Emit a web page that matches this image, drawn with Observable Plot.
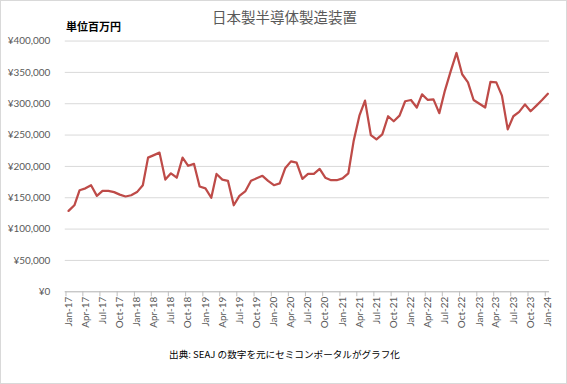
<!DOCTYPE html>
<html>
<head>
<meta charset="utf-8">
<script src="https://cdn.jsdelivr.net/npm/d3@7"></script>
<script src="https://cdn.jsdelivr.net/npm/@observablehq/plot@0.6"></script>
<style>
  html, body { margin: 0; padding: 0; background: #fff; }
  #chart { position: relative; width: 567px; height: 384px; box-sizing: border-box; border: 1px solid #d9d9d9; overflow: hidden; background: #fff; }
  #chart svg { position: absolute; left: -1px; top: -1px; }
  .title { position: absolute; left: 0; width: 567px; top: 9px; text-align: center; font: 14.5px "Noto Sans CJK JP", sans-serif; color: #595959; line-height: 1; }
  .unit { position: absolute; left: 65px; top: 20px; font: bold 11px "Noto Sans CJK JP", sans-serif; color: #000; line-height: 1; }
  .caption { position: absolute; left: 0; width: 567px; top: 349px; text-align: center; font: 9.6px "Noto Sans CJK JP", sans-serif; color: #000; line-height: 1; }
</style>
</head>
<body>
<div id="chart">
  <div class="title">日本製半導体製造装置</div>
  <div class="unit">単位百万円</div>
  <div class="caption">出典: SEAJ の数字を元にセミコンポータルがグラフ化</div>
</div>
<script>
// Monthly values, Jan 2017 .. Jan 2024 (million yen)
const startMonth = "2017-01";
const values = [
  129000, 138000, 162000, 165000, 170000, 153000, 161000, 161000, 159000, 155000, 152000, 154000,
  159000, 170000, 214000, 218000, 222000, 179000, 189000, 182000, 214000, 201000, 204000, 168000,
  165000, 150000, 188000, 179000, 177000, 138000, 153000, 160000, 177000, 181000, 185000, 177000,
  170000, 173000, 197000, 208000, 206000, 180000, 188000, 188000, 196000, 182000, 178000, 178000,
  181000, 189000, 240000, 281000, 305000, 250000, 243000, 251000, 280000, 272000, 281000, 304000,
  306000, 294000, 315000, 306000, 307000, 285000, 321000, 352000, 381000, 347000, 334000, 306000,
  300000, 294000, 335000, 334000, 313000, 259000, 280000, 287000, 299000, 288000, 297000, 306000,
  316000
];
const yTicks = [0, 50000, 100000, 150000, 200000, 250000, 300000, 350000, 400000];
const xTickLabels = ["Jan-17","Apr-17","Jul-17","Oct-17","Jan-18","Apr-18","Jul-18","Oct-18","Jan-19","Apr-19","Jul-19","Oct-19","Jan-20","Apr-20","Jul-20","Oct-20","Jan-21","Apr-21","Jul-21","Oct-21","Jan-22","Apr-22","Jul-22","Oct-22","Jan-23","Apr-23","Jul-23","Oct-23","Jan-24"];

const start = new Date(startMonth + "-01T00:00:00Z");
const data = values.map((v, i) => ({date: d3.utcMonth.offset(start, i), value: v}));
const tickDates = d3.utcMonth.every(3).range(start, d3.utcMonth.offset(start, values.length));
const fmtX = d3.utcFormat("%b-%y");
const fmtY = d => "¥" + d3.format(",")(d);

const plot = Plot.plot({
  width: 567,
  height: 384,
  marginLeft: 65,
  marginRight: 16,
  marginTop: 40.7,
  marginBottom: 91.7,
  style: {fontFamily: "Lato, 'Liberation Sans', sans-serif", fontSize: "10px", color: "#595959", background: "transparent"},
  x: {type: "utc", domain: [start, d3.utcMonth.offset(start, values.length - 1)], insetLeft: 3.3, insetRight: 1.7},
  y: {domain: [0, 400000]},
  marks: [
    Plot.gridY(yTicks, {stroke: "#d9d9d9", strokeOpacity: 1, strokeWidth: 1}),
    Plot.axisY(yTicks, {tickSize: 0, tickPadding: 15, tickFormat: fmtY, fill: "#595959", label: null}),
    Plot.ruleY([0], {stroke: "#bfbfbf", strokeWidth: 1}),
    Plot.axisX(tickDates, {tickSize: 5, tickFormat: () => "", dx: -2.6, stroke: "#bfbfbf", label: null}),
    Plot.axisX(tickDates, {tickSize: 0, tickPadding: 5, tickRotate: -90, tickFormat: (d, i) => xTickLabels[i] ?? fmtX(d), fill: "#595959", label: null}),
    Plot.lineY(data, {x: "date", y: "value", stroke: "#be4b48", strokeWidth: 2.25, strokeLinejoin: "round"})
  ]
});
document.getElementById("chart").appendChild(plot);
</script>
</body>
</html>
